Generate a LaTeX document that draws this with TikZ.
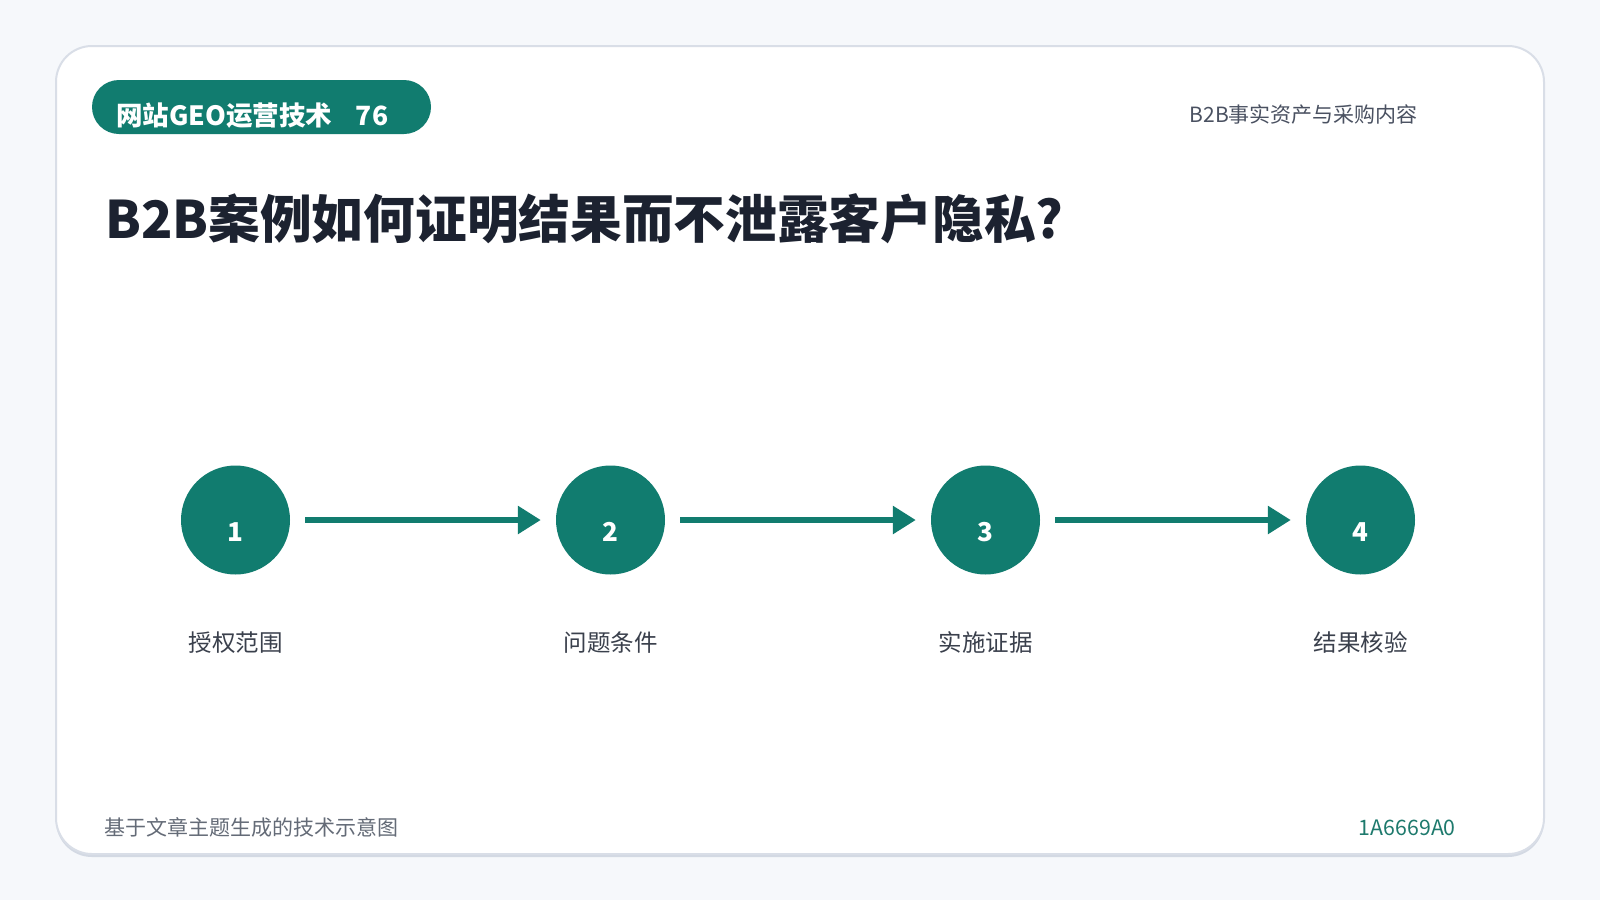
\documentclass[tikz,border=0pt]{standalone}
\usepackage{fontspec}
\setmainfont{Noto Sans CJK SC}
\usetikzlibrary{arrows.meta}
\definecolor{bgc}{HTML}{F6F8FB}
\definecolor{cardborder}{HTML}{D9DEE7}
\definecolor{shadowc}{HTML}{D3D9E3}
\definecolor{teal}{HTML}{117C6F}
\definecolor{titlec}{HTML}{1C2230}
\definecolor{subc}{HTML}{4A5161}
\definecolor{labelc}{HTML}{3A404C}
\definecolor{footc}{HTML}{646B77}
\definecolor{codec}{HTML}{1E7A6D}
\tikzset{
  stepcircle/.style={circle, fill=teal, minimum size=109pt, inner sep=0pt},
  stepnum/.style={anchor=base, inner sep=0pt, text=white, font=\fontsize{26}{30}\selectfont\bfseries},
  steplabel/.style={anchor=base, inner sep=0pt, text=labelc, font=\fontsize{23.5}{28}\selectfont},
  flow/.style={draw=teal, line width=6pt, -{Triangle[length=23pt,width=27pt]}, shorten <=15pt, shorten >=15pt},
}
\begin{document}
\begin{tikzpicture}[x=1pt,y=-1pt]
\useasboundingbox (0,0) rectangle (1600,900);
\fill[bgc] (0,0) rectangle (1600,900);
% card shadow and card
\fill[shadowc, rounded corners=36pt] (56,49) rectangle (1544,857);
\draw[cardborder, fill=white, line width=2pt, rounded corners=36pt] (56,46) rectangle (1544,854);
% badge
\fill[teal, rounded corners=27pt] (92,80) rectangle (431,134);
\node[anchor=base west, inner sep=0pt, text=white, font=\fontsize{26.5}{30}\selectfont\bfseries] (badge) at (116,125) {网站GEO运营技术\hspace{0.9em}76};
% top right
\node[anchor=base east, inner sep=0pt, text=subc, font=\fontsize{21}{26}\selectfont] (sub) at (1418,122) {B2B事实资产与采购内容};
% title
\node[anchor=base west, inner sep=0pt, text=titlec, font=\fontsize{51.7}{60}\selectfont\bfseries] (title) at (105,238) {B2B案例如何证明结果而不泄露客户隐私?};
% steps
\node[stepcircle] (c1) at (235.5,520) {};
\node[stepcircle] (c2) at (610.5,520) {};
\node[stepcircle] (c3) at (985.5,520) {};
\node[stepcircle] (c4) at (1360.5,520) {};
\node[stepnum] (n1) at ([yshift=-21pt]c1.center) {1};
\node[stepnum] (n2) at ([yshift=-21pt]c2.center) {2};
\node[stepnum] (n3) at ([yshift=-21pt]c3.center) {3};
\node[stepnum] (n4) at ([yshift=-21pt]c4.center) {4};
\draw[flow] (c1) -- (c2);
\draw[flow] (c2) -- (c3);
\draw[flow] (c3) -- (c4);
\node[steplabel] (l1) at ([yshift=-131pt]c1.center) {授权范围};
\node[steplabel] (l2) at ([yshift=-131pt]c2.center) {问题条件};
\node[steplabel] (l3) at ([yshift=-131pt]c3.center) {实施证据};
\node[steplabel] (l4) at ([yshift=-131pt]c4.center) {结果核验};
% footer
\node[anchor=base west, inner sep=0pt, text=footc, font=\fontsize{21}{26}\selectfont] (foot) at (104,835) {基于文章主题生成的技术示意图};
\node[anchor=base east, inner sep=0pt, text=codec, font=\fontsize{21.3}{26}\selectfont] (code) at (1456,835) {1A6669A0};
\end{tikzpicture}
\end{document}
